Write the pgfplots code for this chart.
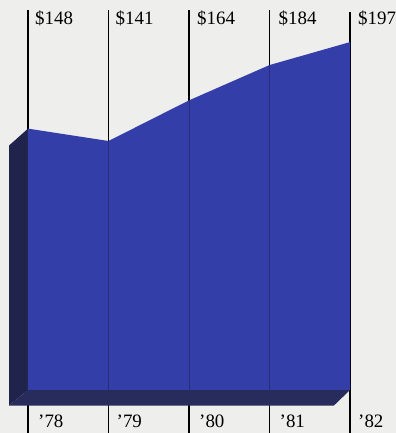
\documentclass[border=0pt]{standalone}
\usepackage{pgfplots}
\pgfplotsset{compat=1.18}
\usepackage{fontspec}
\setmainfont{Liberation Serif}
\definecolor{bg}{RGB}{238,238,236}
\definecolor{areablue}{RGB}{52,62,168}
\definecolor{sideblue}{RGB}{32,36,76}
\definecolor{bottomblue}{RGB}{40,44,92}
\definecolor{inline}{RGB}{38,46,120}
\begin{document}
\begin{tikzpicture}
\begin{axis}[
  scale only axis, width=396bp, height=433bp,
  xmin=-0.3478, xmax=4.5714, ymin=-24.35, ymax=220.84,
  axis line style={draw=none}, ticks=none,
  axis background/.style={fill=bg},
  clip=true,
]
% vertical lines
\addplot[black, line width=1.3bp] coordinates {(0,215) (0,-24.3)};
\addplot[black, line width=1.3bp] coordinates {(1,215) (1,-24.3)};
\addplot[black, line width=1.3bp] coordinates {(2,215) (2,-24.3)};
\addplot[black, line width=1.3bp] coordinates {(3,215) (3,-24.3)};
\addplot[black, line width=1.3bp] coordinates {(4,214) (4,-24.3)};
% left side face
\addplot[fill=sideblue, draw=none] coordinates {(0,148) (-0.236,138.4) (-0.236,-8.8) (0,0)} -- cycle;
% bottom face
\addplot[fill=bottomblue, draw=none] coordinates {(0,0) (4,0) (3.80,-8.8) (-0.236,-8.8)} -- cycle;
% front face (data)
\addplot[fill=areablue, draw=none] coordinates {(0,0) (0,148) (1,141) (2,164) (3,184) (4,197) (4,0)} -- cycle;
% faint lines through the area
\addplot[inline, line width=0.9bp] coordinates {(1,141) (1,0)};
\addplot[inline, line width=0.9bp] coordinates {(2,164) (2,0)};
\addplot[inline, line width=0.9bp] coordinates {(3,184) (3,0)};
% labels
\begin{scope}[every node/.style={font=\fontsize{19}{22}\selectfont, inner sep=0pt, anchor=base west}]
\node[xshift=7bp] at (axis cs:0,206.7) {\$148};
\node[xshift=7bp] at (axis cs:1,206.7) {\$141};
\node[xshift=8bp] at (axis cs:2,206.7) {\$164};
\node[xshift=9bp] at (axis cs:3,206.7) {\$184};
\node[xshift=8bp] at (axis cs:4,206.7) {\$197};
\node[xshift=10bp] at (axis cs:0,-21.5) {'78};
\node[xshift=8bp] at (axis cs:1,-21.5) {'79};
\node[xshift=10bp] at (axis cs:2,-21.5) {'80};
\node[xshift=10bp] at (axis cs:3,-21.5) {'81};
\node[xshift=8bp] at (axis cs:4,-21.5) {'82};
\end{scope}
\end{axis}
\end{tikzpicture}
\end{document}
